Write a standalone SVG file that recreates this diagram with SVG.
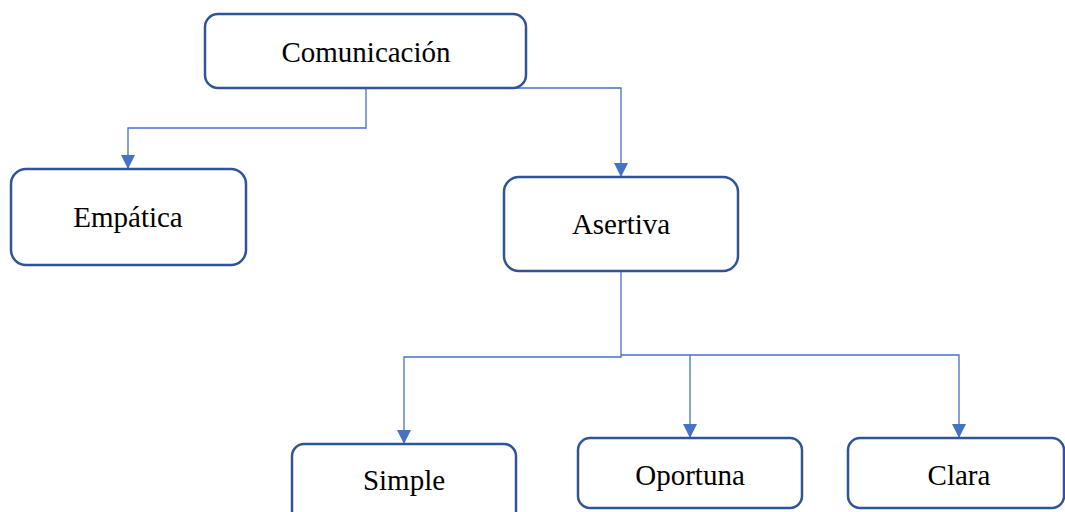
<svg xmlns="http://www.w3.org/2000/svg" width="1065" height="512" viewBox="0 0 1065 512">
<style>
.box{fill:#fff;stroke:#2f5597;stroke-width:2.5}
.lbl{font-family:"Liberation Serif","Times New Roman",serif;font-size:29px;fill:#000;text-anchor:middle}
.con{fill:none;stroke:#4472c4;stroke-width:1.3}
</style>
<defs>
<marker id="ah" markerWidth="14" markerHeight="14" refX="14" refY="7" orient="auto" markerUnits="userSpaceOnUse">
<path d="M0,0 L14,7 L0,14 Z" fill="#4472c4"/>
</marker>
</defs>
<rect width="1065" height="512" fill="#fff"/>
<g id="connectors">
<path class="con" d="M366,88 V128 H128 V169" marker-end="url(#ah)"/>
<path class="con" d="M515,88 H621 V177" marker-end="url(#ah)"/>
<path class="con" d="M621,271 V357 H404 V444" marker-end="url(#ah)"/>
<path class="con" d="M621,355 H690 V438" marker-end="url(#ah)"/>
<path class="con" d="M690,355 H959 V438" marker-end="url(#ah)"/>
</g>
<g id="comunicacion">
<rect class="box" x="205" y="14" width="321" height="74" rx="13"/>
<text class="lbl" x="366" y="62">Comunicación</text>
</g>
<g id="empatica">
<rect class="box" x="11" y="169" width="235" height="96" rx="15"/>
<text class="lbl" x="128" y="227">Empática</text>
</g>
<g id="asertiva">
<rect class="box" x="504" y="177" width="234" height="94" rx="15"/>
<text class="lbl" x="621" y="234">Asertiva</text>
</g>
<g id="simple">
<rect class="box" x="292" y="444" width="224" height="80" rx="12"/>
<text class="lbl" x="404" y="490">Simple</text>
</g>
<g id="oportuna">
<rect class="box" x="578" y="438" width="224" height="70" rx="12"/>
<text class="lbl" x="690" y="485">Oportuna</text>
</g>
<g id="clara">
<rect class="box" x="848" y="438" width="216" height="70" rx="12"/>
<text class="lbl" x="959" y="485">Clara</text>
</g>
</svg>
